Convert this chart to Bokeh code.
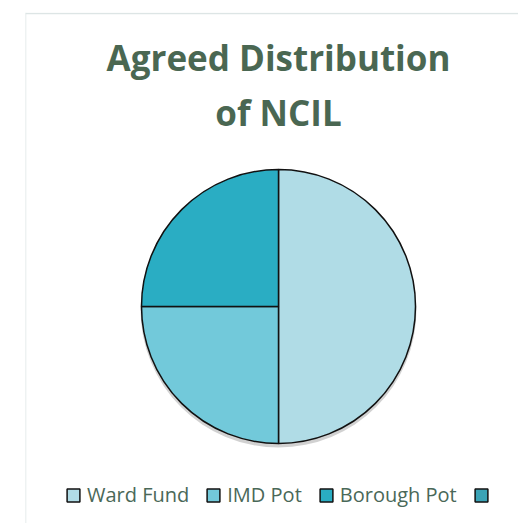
import math
from bokeh.plotting import figure
from bokeh.models import Range1d, Span, Label, Legend, LegendItem
from bokeh.embed import file_html
from bokeh.resources import INLINE

title_lines = ["Agreed Distribution", "of NCIL"]
categories = ["Ward Fund", "IMD Pot", "Borough Pot", " "]
values = [50, 25, 25, 0]
colors = ["#b0dce6", "#72c9da", "#2aadc3", "#3aa3b6"]

W, H = 518, 523
BL, BT = 25, 12
fw, fh = W - BL, H - BT
cx, cy = 253, 294  # pie centre inside frame (px from frame left/top)

p = figure(width=W, height=H, output_backend="svg", toolbar_location=None,
           x_range=Range1d(-cx, fw - cx), y_range=Range1d(-(fh - cy), cy),
           min_border_left=BL, min_border_top=BT, min_border_right=0, min_border_bottom=0)
p.axis.visible = False
p.grid.visible = False
p.outline_line_color = None
p.background_fill_color = "white"
p.border_fill_color = "white"

p.add_layout(Span(location=-cx, dimension="height", line_color="#dde5e5", line_width=1.5))
p.add_layout(Span(location=cy - 1, dimension="width", line_color="#dde5e5", line_width=1.5))

total = sum(values)
R = 137
# soft drop shadow under the pie
p.circle(x=0, y=-3, radius=R + 1, fill_color="#000000", fill_alpha=0.18, line_color=None)

cum = 0.0
items = []
for cat, v, c in zip(categories, values, colors):
    start = math.pi / 2 - cum / total * 2 * math.pi
    cum += v
    end = math.pi / 2 - cum / total * 2 * math.pi
    r = p.wedge(x=0, y=0, radius=R if v > 0 else 0, start_angle=start, end_angle=end,
                direction="clock", fill_color=c, line_color="#111111", line_width=1.5)
    items.append(LegendItem(label=cat, renderers=[r]))

legend = Legend(items=items, orientation="horizontal", location=(40, 15),
                glyph_width=16, glyph_height=16, label_standoff=6, spacing=16,
                padding=0, margin=0, border_line_color=None, background_fill_alpha=0,
                label_text_font="Open Sans", label_text_font_size="20px",
                label_text_color="#4a6858", label_height=18)
p.add_layout(legend, "center")

for t, yb in zip(title_lines, [249, 194]):
    p.add_layout(Label(x=0, y=yb, text=t, text_align="center", text_baseline="alphabetic",
                       text_font="Open Sans", text_font_style="bold", text_font_size="35px",
                       text_color="#4a6752"))

open("out.html", "w").write(file_html(p, INLINE))
